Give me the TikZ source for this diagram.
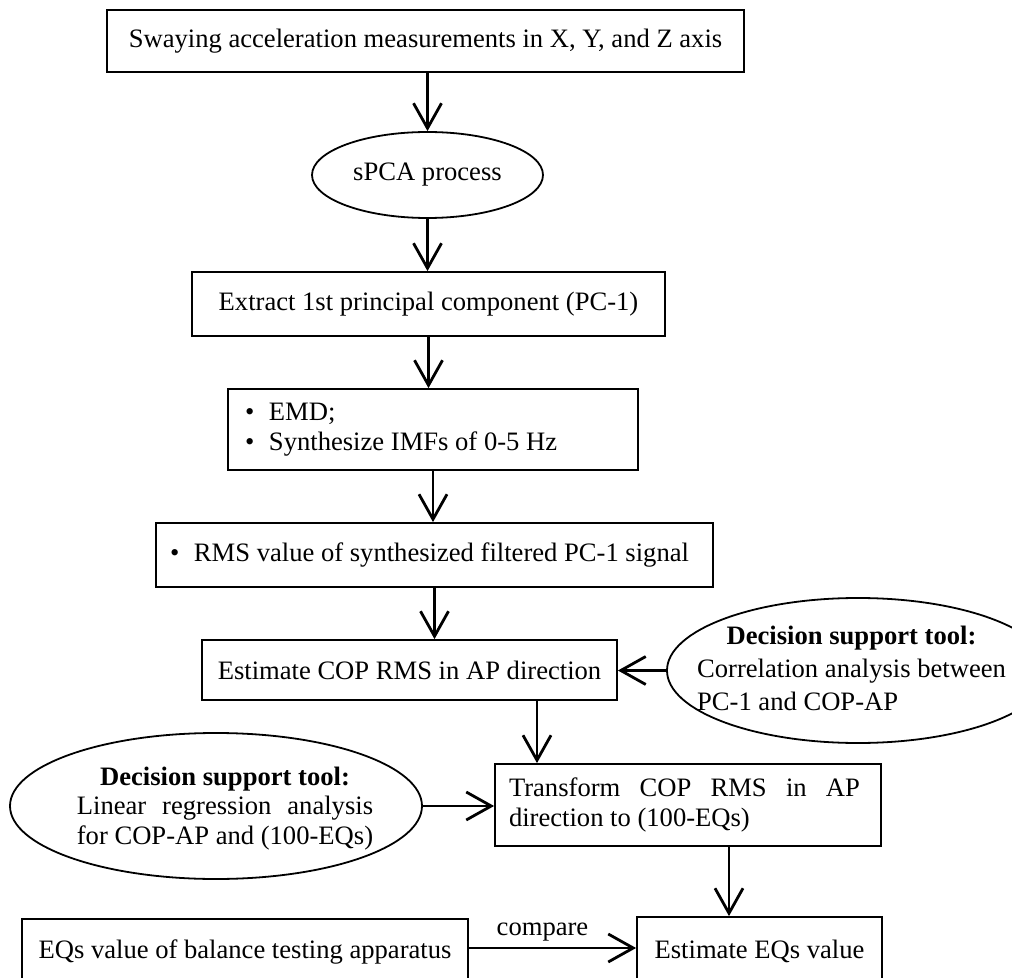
\documentclass[tikz,border=0pt]{standalone}
\usepackage{fontspec}
\setmainfont{Liberation Serif}
\usetikzlibrary{arrows.meta,shapes.geometric}
\newlength\lrwidth
\newcommand\fs{\fontsize{13.3}{15.3}\selectfont}
\newcommand\bul{\makebox[12pt][l]{\textbullet}}
\begin{document}
\begin{tikzpicture}[x=0.5pt,y=-0.5pt,
  base/.style={font=\fs, line width=0.9pt, inner sep=0pt},
  box/.style={base, draw, rectangle, align=center},
  oval/.style={base, draw, ellipse},
  flow/.style={line width=1.4pt, -{Straight Barb[length=12.5pt,width=14pt]}},
]
\useasboundingbox (0,0) rectangle (1012,978);
\clip (0,0) rectangle (1012,978);

\node[box, minimum width=318.5pt, minimum height=31pt] (meas) at (425.5,41)
  {Swaying acceleration measurements in X, Y, and Z axis};
\node[oval, minimum width=115.5pt, minimum height=43pt] (spca) at (427.5,175) {sPCA process};
\node[box, minimum width=236.5pt, minimum height=32pt] (pc1) at (428.5,304)
  {Extract 1st principal component (PC-1)};
\node[box, align=left, inner xsep=8.5pt, minimum height=40.5pt] (emd) at (433,429.5)
  {\makebox[188pt][l]{\bul EMD;}\\\makebox[188pt][l]{\bul Synthesize IMFs of 0-5 Hz}};
\node[box, inner xsep=7pt, minimum height=32pt] (rms) at (434.5,555)
  {\makebox[264.5pt][l]{\bul RMS value of synthesized filtered PC-1 signal}};
\node[box, minimum width=207.5pt, minimum height=30pt] (estcop) at (409.5,670)
  {Estimate COP RMS in AP direction};
\node[box, align=left, inner xsep=7pt, minimum height=41pt] (transform) at (688,805)
  {\hbox to 175.5pt{Transform\hfill COP\hfill RMS\hfill in\hfill AP}\hspace*{3.5pt}\\direction to (100-EQs)\vphantom{Ty}};
\node[box, minimum width=223pt, minimum height=33pt] (eqbox) at (245,952)
  {EQs value of balance testing apparatus};
\node[box, minimum width=122.5pt, minimum height=34pt] (esteq) at (759.5,951)
  {Estimate EQs value};

\node[oval, minimum width=191pt, minimum height=72.5pt] (dstR) at (858,670.5) {};
\node[base, font=\fontsize{13.3}{16.5}\selectfont] (dstRtext) at (851.5,671)
  {\begin{tabular}{@{}l@{}}\multicolumn{1}{@{}c@{}}{\textbf{Decision support tool:}}\\
   Correlation analysis between\\ PC-1 and COP-AP\end{tabular}};

\node[oval, minimum width=206pt, minimum height=73pt] (dstL) at (216,806) {};
\node[base, font=\fontsize{13.3}{14.8}\selectfont] (dstLtext) at (225,809)
  {\settowidth\lrwidth{for COP-AP and (100-EQs)}%
   \begin{tabular}{@{}c@{}}\textbf{Decision support tool:}\\
   \makebox[\lrwidth][s]{Linear regression analysis}\\ for COP-AP and (100-EQs)\end{tabular}};

\coordinate (a7x) at (537,700);
\coordinate (a9x) at (729,900);
\coordinate (cmpy) at (500,948);

\draw[flow] (meas.south -| spca.north) -- (spca.north);
\draw[flow] (spca.south) -- (spca.south |- pc1.north);
\draw[flow] (pc1.south) -- (pc1.south |- emd.north);
\draw[flow] (emd.south) -- (emd.south |- rms.north);
\draw[flow] (rms.south) -- (rms.south |- estcop.north);
\draw[flow] (dstR.west) -- (dstR.west -| estcop.east);
\draw[flow] (a7x |- estcop.south) -- (a7x |- transform.north);
\draw[flow] (dstL.east) -- (dstL.east -| transform.west);
\draw[flow] (a9x |- transform.south) -- (a9x |- esteq.north);
\draw[flow] (eqbox.east |- cmpy) -- node[base, above=3pt, xshift=-5pt] (cmp) {compare} (esteq.west |- cmpy);
\end{tikzpicture}
\end{document}
